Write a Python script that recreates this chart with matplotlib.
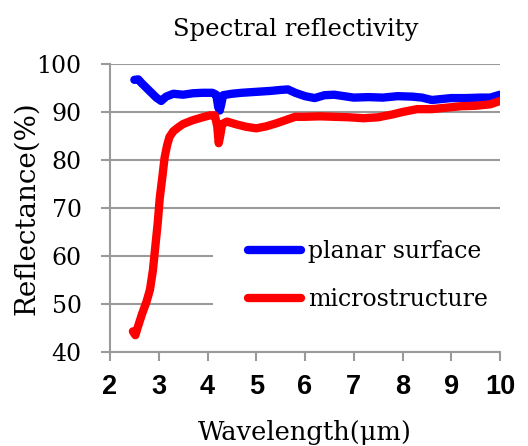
import matplotlib
matplotlib.use("Agg")
import matplotlib.pyplot as plt
from matplotlib.patches import Rectangle

# ---- data ----
planar_x = [2.50, 2.58, 2.65, 2.75, 2.85, 2.95, 3.05, 3.15, 3.30, 3.50, 3.70, 3.90,
            4.10, 4.18, 4.22, 4.25, 4.28, 4.32, 4.50, 4.70, 5.00, 5.30, 5.50, 5.65,
            5.80, 6.00, 6.20, 6.40, 6.60, 6.80, 7.00, 7.30, 7.60, 7.90, 8.20, 8.40,
            8.60, 8.80, 9.00, 9.30, 9.60, 9.80, 10.00]
planar_y = [96.7, 96.8, 96.0, 95.0, 94.0, 93.0, 92.3, 93.2, 93.8, 93.6, 93.9, 94.0,
            94.0, 93.6, 91.0, 90.3, 91.5, 93.5, 93.8, 94.0, 94.2, 94.4, 94.6, 94.7,
            94.0, 93.3, 92.9, 93.5, 93.6, 93.3, 93.0, 93.1, 93.0, 93.3, 93.2, 93.0,
            92.5, 92.7, 92.9, 92.9, 93.0, 93.0, 93.6]

micro_x = [2.47, 2.52, 2.58, 2.66, 2.75, 2.82, 2.88, 2.93, 2.98, 3.02, 3.08, 3.12,
           3.17, 3.22, 3.30, 3.40, 3.50, 3.70, 3.90, 4.05, 4.15, 4.20, 4.23, 4.26,
           4.30, 4.40, 4.60, 4.80, 5.00, 5.20, 5.40, 5.60, 5.80, 6.00, 6.30, 6.60,
           6.90, 7.20, 7.50, 7.80, 8.00, 8.30, 8.60, 8.90, 9.20, 9.50, 9.80, 10.00]
micro_y = [44.3, 43.5, 45.5, 48.0, 50.5, 53.0, 57.0, 62.0, 67.0, 72.0, 77.0, 80.5,
           83.0, 84.8, 86.0, 86.8, 87.5, 88.3, 88.9, 89.3, 89.3, 87.0, 83.5, 85.0,
           87.5, 88.0, 87.4, 86.9, 86.6, 87.0, 87.6, 88.3, 89.0, 89.0, 89.1, 89.0,
           88.9, 88.7, 88.9, 89.5, 90.0, 90.6, 90.6, 90.9, 91.2, 91.3, 91.6, 92.3]

xticks = [2, 3, 4, 5, 6, 7, 8, 9, 10]
yticks = [40, 50, 60, 70, 80, 90, 100]

series_labels = ["planar surface", "microstructure"]
series_colors = ["#0000ff", "#ff0000"]

SERIF = "DejaVu Serif"
GRID = "#9a9a9a"

fig = plt.figure(figsize=(5.28, 4.46), dpi=100)
ax = fig.add_axes([110 / 528, 1 - 352 / 446, 390 / 528, 288 / 446])

ax.set_xlim(2, 10)
ax.set_ylim(40, 100)
ax.set_xticks(xticks)
ax.set_yticks(yticks)

ax.grid(axis="y", color=GRID, linewidth=1.5, zorder=0)
ax.set_axisbelow(True)

for s in ["top", "right"]:
    ax.spines[s].set_visible(False)
for s in ["left", "bottom"]:
    ax.spines[s].set_color(GRID)
    ax.spines[s].set_linewidth(1.5)

ax.tick_params(axis="both", direction="out", length=6.5, width=1.5, color=GRID)
ax.tick_params(axis="y", pad=14)
ax.tick_params(axis="x", pad=9)

for lab in ax.get_yticklabels():
    lab.set_fontfamily(SERIF)
    lab.set_fontsize(17)
for lab in ax.get_xticklabels():
    lab.set_fontfamily("Liberation Sans")
    lab.set_fontweight("bold")
    lab.set_fontsize(19.5)

# white legend background hiding the grid
ax.add_patch(Rectangle((4.11, 41.5), 6.2, 25.5, facecolor="white", edgecolor="none",
                       zorder=1, clip_on=False))

ax.plot(planar_x, planar_y, color=series_colors[0], linewidth=6,
        solid_capstyle="round", solid_joinstyle="round", label=series_labels[0], zorder=3)
ax.plot(micro_x, micro_y, color=series_colors[1], linewidth=6,
        solid_capstyle="round", solid_joinstyle="round", label=series_labels[1], zorder=3)

leg = ax.legend(loc="upper left", bbox_to_anchor=(0.33, 0.42), frameon=False,
                prop={"family": SERIF, "size": 17}, handlelength=2.25,
                handletextpad=0.3, labelspacing=1.05, borderaxespad=0)

ax.set_title("Spectral reflectivity", fontfamily=SERIF, fontsize=17.5, x=0.477, pad=20)
ax.set_ylabel("Reflectance(%)", fontfamily=SERIF, fontsize=20, labelpad=-3)
ax.set_xlabel("Wavelength(μm)", fontfamily=SERIF, fontsize=18.5, labelpad=15)

fig.savefig("out.png", dpi=100)
